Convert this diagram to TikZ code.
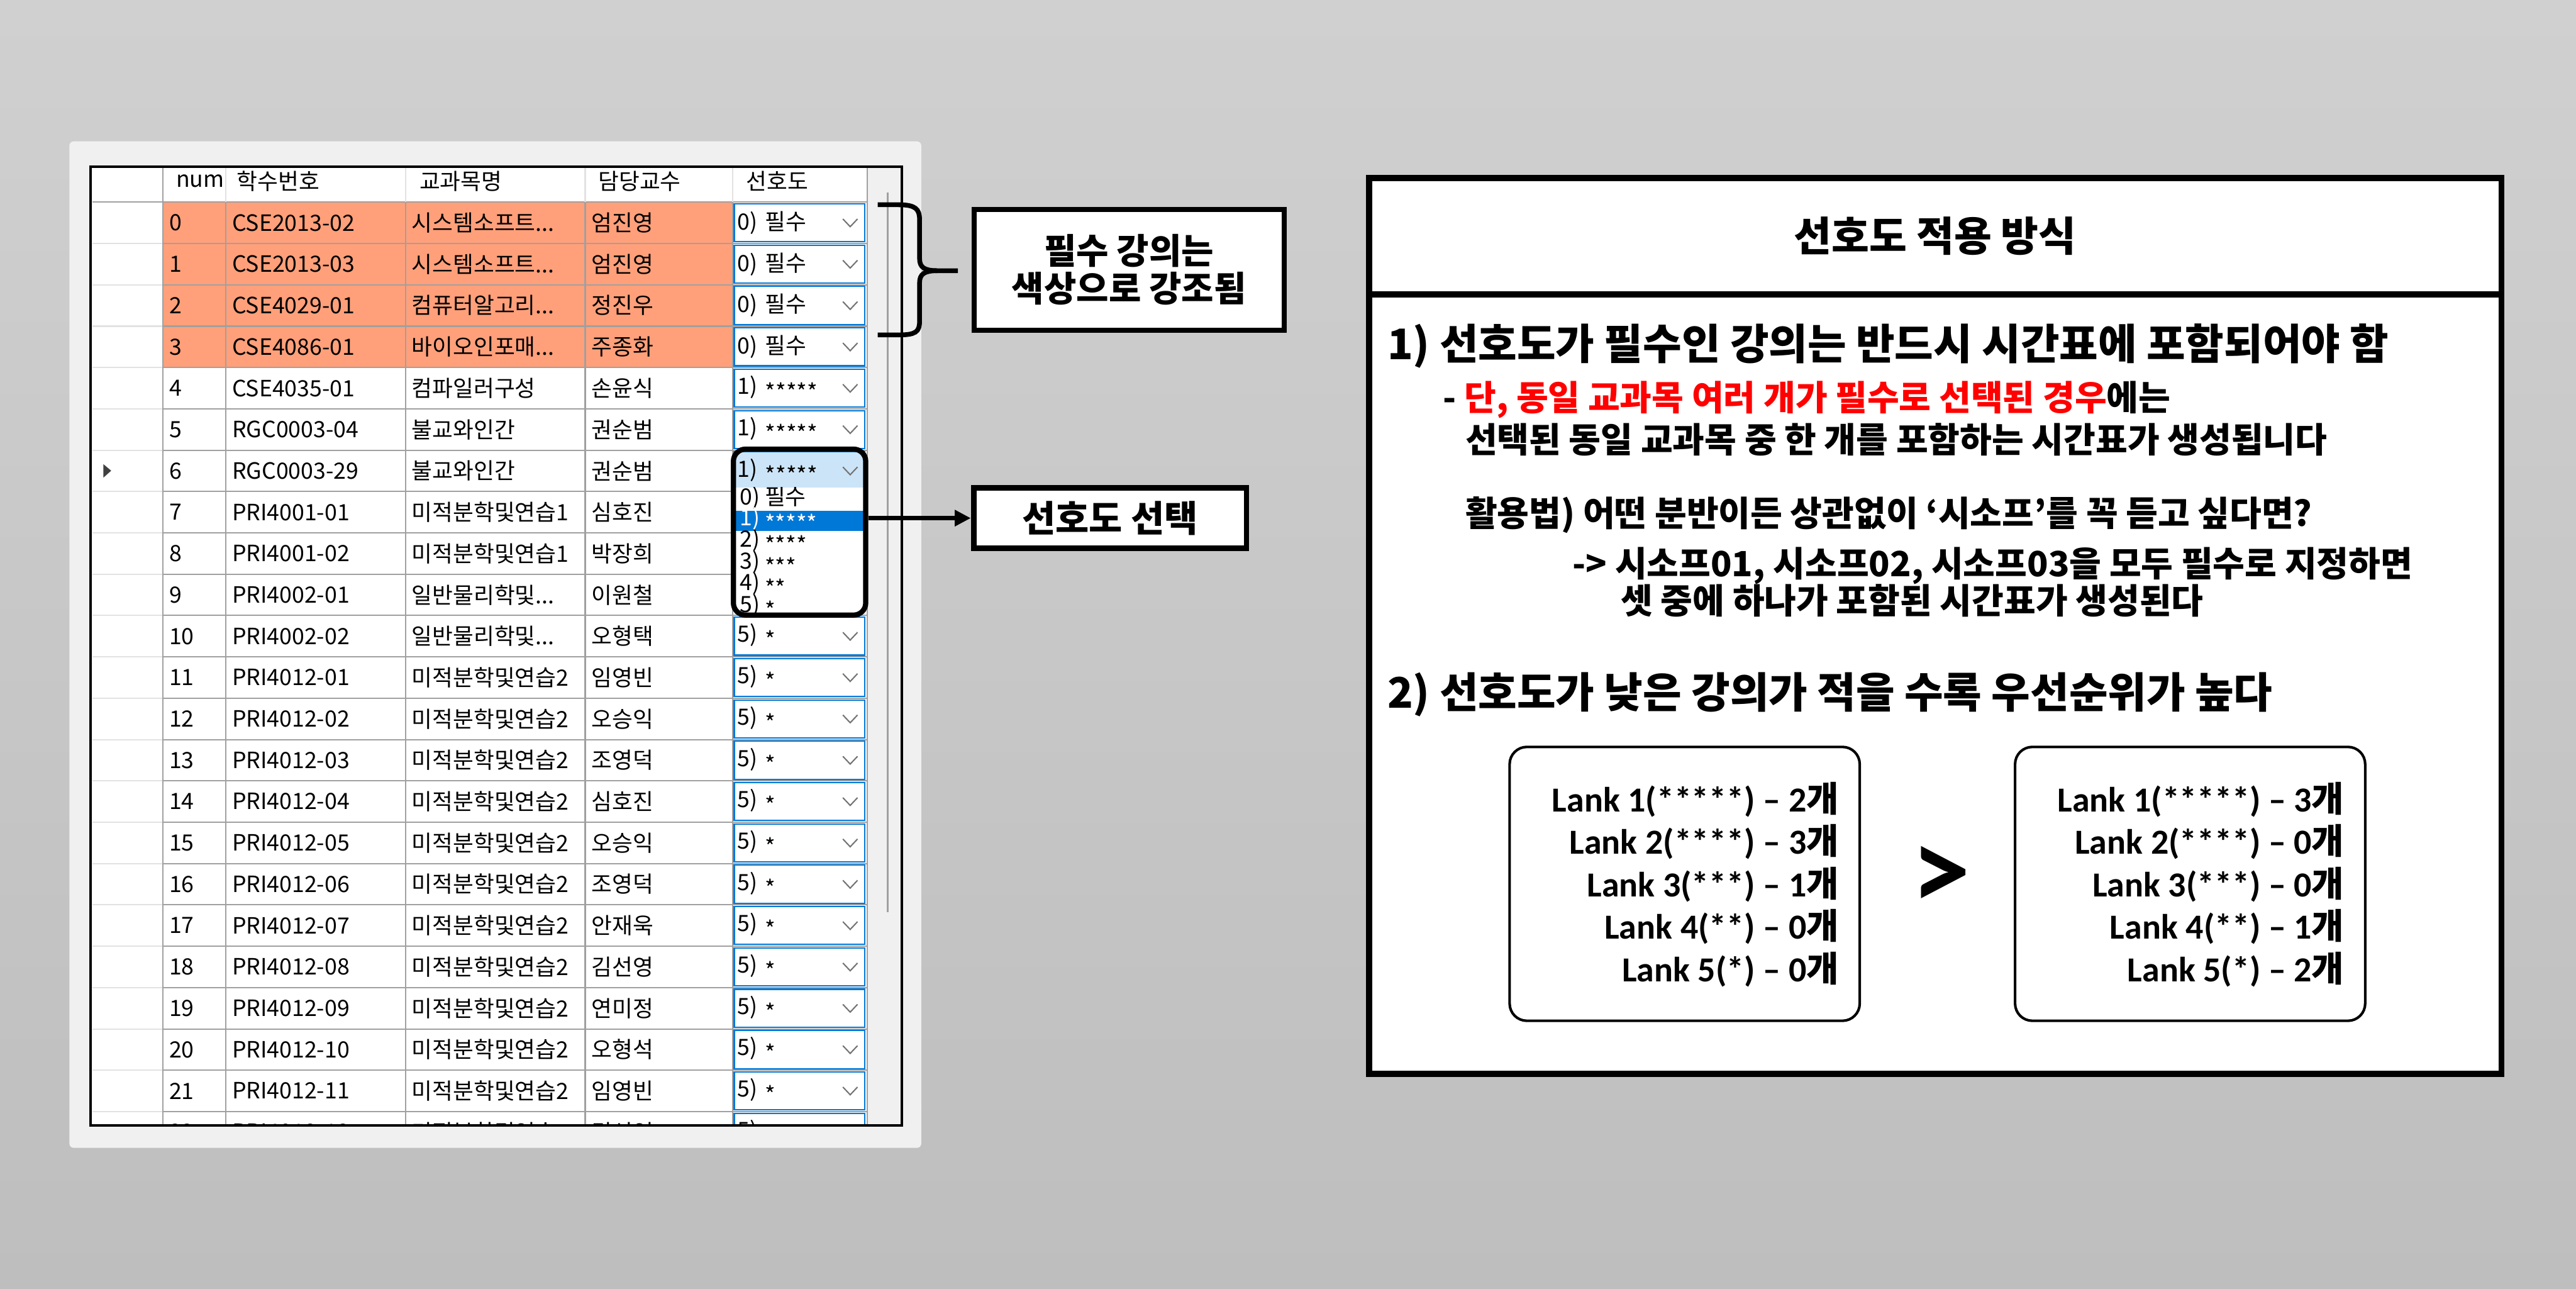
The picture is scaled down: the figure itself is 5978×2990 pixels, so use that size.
\documentclass[tikz,border=0pt]{standalone}
\usepackage{fontspec}
\usetikzlibrary{positioning,arrows.meta,fit}
\newfontfamily\kr{Noto Sans CJK KR}
\newfontfamily\lat{Carlito}
\newcommand\ellip{...}
\newcommand\st{\raisebox{-0.28em}{*}}
\definecolor{bgtop}{RGB}{208,208,208}
\definecolor{bgbot}{RGB}{190,190,190}
\definecolor{panel}{RGB}{240,240,240}
\definecolor{salmon}{RGB}{255,160,122}
\definecolor{grid}{RGB}{160,160,160}
\definecolor{gridlt}{RGB}{226,226,226}
\definecolor{winblue}{RGB}{0,120,215}
\definecolor{selblue}{RGB}{204,228,247}
\tikzset{
	>={Triangle[length=0.37cm,width=0.36cm]}
}

\begin{document}
\begin{tikzpicture}[
x = 0.01cm, y = -0.01cm,
cell/.style = {
	anchor = west,
	inner sep = 0,
	font = \kr\fontsize{14.8}{16}\selectfont
},
combo/.style = {
	cell, anchor = center,
	draw = winblue, line width = 0.03cm, fill = white,
	minimum width = 3.03cm, minimum height = 0.88cm,
	text width = 2.87cm, inner xsep = 0.08cm, align = left
},
chev/.style = {draw = black!55, line width = 0.03cm},
callout/.style = {
	draw, line width = 0.12cm, fill = white, align = center,
	font = \kr\bfseries\fontsize{23.2}{24.8}\selectfont
},
rulebox/.style = {draw, line width = 0.14cm, fill = white},
rtitle/.style = {font = \kr\bfseries\fontsize{27}{30}\selectfont},
rhead/.style = {anchor = west, inner sep = 0, font = \kr\bfseries\fontsize{27.8}{30}\selectfont},
rtext/.style = {anchor = west, inner sep = 0, font = \kr\bfseries\fontsize{22.9}{26}\selectfont},
lankbox/.style = {
	draw, line width = 0.06cm, fill = white, rounded corners = 0.4cm,
	minimum width = 8.12cm, minimum height = 6.35cm
},
lank/.style = {
	anchor = east, align = right, inner sep = 0,
	font = \lat\bfseries\fontsize{23.2}{28}\selectfont
},
pickframe/.style = {draw, line width = 0.12cm, rounded corners = 0.28cm, inner sep = 0},
brace/.style = {line width = 0.11cm}
]

\shade[top color=bgtop, bottom color=bgbot] (0,0) rectangle (5978,2990);
\useasboundingbox (0,0) rectangle (5978,2990);

% window with the grid
\fill[panel, rounded corners=0.1cm] (161,328) rectangle (2138,2663);

\begin{scope}
\clip (210,387) rectangle (2093,2611);
\fill[white] (210,387) rectangle (2093,2611);
\fill[panel] (2012,387) rectangle (2093,2611);
\draw[grid, line width=0.05cm] (2060,446) -- (2060,2116);
\fill[salmon] (378,469) rectangle (1700,852.6);

\foreach \k in {0,...,22}
	\draw[grid, line width=0.03cm] (378,{469+\k*95.9}) -- (2012,{469+\k*95.9});
\foreach \k in {1,...,22}
	\draw[gridlt, line width=0.03cm] (214,{469+\k*95.9}) -- (376,{469+\k*95.9});
\draw[grid, line width=0.03cm] (214,469) -- (378,469);
\foreach \x in {524,941,1358,1700} {
	\draw[gridlt, line width=0.03cm] (\x,390) -- (\x,469);
	\draw[grid, line width=0.03cm] (\x,469) -- (\x,2611);
}
\draw[grid, line width=0.03cm] (378,387) -- (378,2611);
\draw[grid, line width=0.03cm] (2012,387) -- (2012,2611);

\node[cell] (hnum)  at (408,420)  {num};
\node[cell] (hcode) at (549,420)  {학수번호};
\node[cell] (hsubj) at (973,420)  {교과목명};
\node[cell] (hprof) at (1388,420) {담당교수};
\node[cell] (hpref) at (1731,420) {선호도};

\foreach \i/\code/\subj/\prof in {
	0/CSE2013-02/시스템소프트\ellip/엄진영,
	1/CSE2013-03/시스템소프트\ellip/엄진영,
	2/CSE4029-01/컴퓨터알고리\ellip/정진우,
	3/CSE4086-01/바이오인포매\ellip/주종화,
	4/CSE4035-01/컴파일러구성/손윤식,
	5/RGC0003-04/불교와인간/권순범,
	6/RGC0003-29/불교와인간/권순범,
	7/PRI4001-01/미적분학및연습1/심호진,
	8/PRI4001-02/미적분학및연습1/박장희,
	9/PRI4002-01/일반물리학및\ellip/이원철,
	10/PRI4002-02/일반물리학및\ellip/오형택,
	11/PRI4012-01/미적분학및연습2/임영빈,
	12/PRI4012-02/미적분학및연습2/오승익,
	13/PRI4012-03/미적분학및연습2/조영덕,
	14/PRI4012-04/미적분학및연습2/심호진,
	15/PRI4012-05/미적분학및연습2/오승익,
	16/PRI4012-06/미적분학및연습2/조영덕,
	17/PRI4012-07/미적분학및연습2/안재욱,
	18/PRI4012-08/미적분학및연습2/김선영,
	19/PRI4012-09/미적분학및연습2/연미정,
	20/PRI4012-10/미적분학및연습2/오형석,
	21/PRI4012-11/미적분학및연습2/임영빈,
	22/PRI4012-12/미적분학및연습2/김선영} {
	\pgfmathsetmacro\yc{469+(\i+0.5)*95.9}
	\node[cell] (num\i)  at (392,\yc)  {\i};
	\node[cell] (code\i) at (538,\yc)  {\code};
	\node[cell] (subj\i) at (955,\yc)  {\subj};
	\node[cell] (prof\i) at (1372,\yc) {\prof};
}

\foreach \i/\pref in {0/0) 필수,1/0) 필수,2/0) 필수,3/0) 필수,
	4/1) \st\st\st\st\st,5/1) \st\st\st\st\st,
	10/5) \st,11/5) \st,12/5) \st,13/5) \st,14/5) \st,15/5) \st,16/5) \st,
	17/5) \st,18/5) \st,19/5) \st,20/5) \st,21/5) \st,22/5) \st} {
	\pgfmathsetmacro\yc{469+(\i+0.5)*95.9}
	\node[combo] (pref\i) at (1855.5,\yc) {\pref};
	\draw[chev] (1956,{\yc-9}) -- (1973,{\yc+9}) -- (1990,{\yc-9});
}
\node[combo, fill=selblue] (pref6) at (1855.5,1092.4) {1) \st\st\st\st\st};
\draw[chev] (1956,1083.4) -- (1973,1101.4) -- (1990,1083.4);
\end{scope}
\draw[line width=0.05cm] (210,387) rectangle (2093,2611);
\fill[black!75] (240,1077) -- (258,1092) -- (240,1108) -- cycle;

% open list of the selected row
\begin{scope}
\clip (1703,1131) rectangle (2008,1422);
\fill[white] (1703,1131) rectangle (2008,1422);
\fill[winblue] (1706,1185) rectangle (2005,1232);
\foreach \k/\opt in {0/0) 필수,2/2) \st\st\st\st,3/3) \st\st\st,4/4) \st\st,5/5) \st}
	\node[cell] (opt\k) at (1716,{1155+\k*50.3}) {\opt};
\node[cell, text=white] (opt1) at (1716,1205.3) {1) \st\st\st\st\st};
\end{scope}
\node[pickframe, fit={(1702,1042) (2009,1427)}] (pick) {};

% callouts
\node[callout, minimum width=7.19cm, minimum height=2.80cm] (req) at (2620,626) {필수 강의는\\색상으로 강조됨};
\node[callout, line width=0.13cm, minimum width=6.33cm, minimum height=1.39cm, font=\kr\bfseries\fontsize{24}{26}\selectfont] (sel) at (2576,1202) {선호도 선택};

\draw[brace] (2037,475) -- (2085,475) .. controls (2125,475) and (2134,485) .. (2134,510) -- (2134,600)
	.. controls (2134,620) and (2145,628) .. (2175,628) -- (2223,628);
\draw[brace] (2175,628) .. controls (2145,628) and (2134,636) .. (2134,656) -- (2134,745)
	.. controls (2134,770) and (2125,777) .. (2085,777) -- (2037,777);
\draw[->, line width=0.106cm] (pick.east |- sel.west) -- (sel.west);

% rule panel
\node[rulebox, minimum width=26.26cm, minimum height=18.08cm] (rulebody) at (4491,1587) {};
\node[rulebox, rtitle, minimum width=26.26cm, minimum height=2.70cm] (ruletitle) at (4491,548) {선호도 적용 방식};

\node[rhead] (rule1) at (3219,802)  {1) 선호도가 필수인 강의는 반드시 시간표에 포함되어야 함};
\node[rtext] (note1) at (3348,928)  {- {\color{red}단, 동일 교과목 여러 개가 필수로 선택된 경우}에는};
\node[rtext] (note2) at (3400,1020) {선택된 동일 교과목 중 한 개를 포함하는 시간표가 생성됩니다};
\node[rtext] (tip1)  at (3400,1195) {활용법) 어떤 분반이든 상관없이 ‘시소프’를 꼭 듣고 싶다면?};
\node[rtext] (tip2)  at (3649,1312) {-> 시소프01, 시소프02, 시소프03을 모두 필수로 지정하면};
\node[rtext] (tip3)  at (3761,1394) {셋 중에 하나가 포함된 시간표가 생성된다};
\node[rhead] (rule2) at (3219,1611) {2) 선호도가 낮은 강의가 적을 수록 우선순위가 높다};

\node[lankbox] (boxL) at (3909.5,2050.5) {};
\node[lankbox] (boxR) at (5082.5,2050.5) {};
\node[lank] (lankL) at ([xshift=-0.51cm]boxL.east |- 0,2052) {Lank 1(*****) – 2{\kr 개}\\Lank 2(****) – 3{\kr 개}\\Lank 3(***) – 1{\kr 개}\\Lank 4(**) – 0{\kr 개}\\Lank 5(*) – 0{\kr 개}};
\node[lank] (lankR) at ([xshift=-0.51cm]boxR.east |- 0,2052) {Lank 1(*****) – 3{\kr 개}\\Lank 2(****) – 0{\kr 개}\\Lank 3(***) – 0{\kr 개}\\Lank 4(**) – 1{\kr 개}\\Lank 5(*) – 2{\kr 개}};
\node[font=\lat\bfseries\fontsize{78}{78}\selectfont, inner sep=0] (gt) at (4505,2037) {>};
\end{tikzpicture}
\end{document}
